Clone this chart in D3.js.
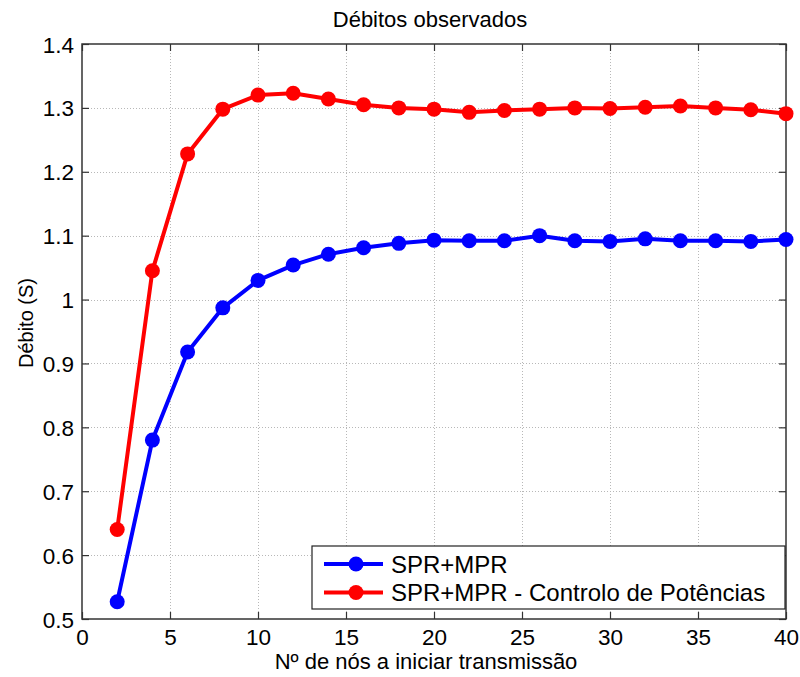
<!DOCTYPE html>
<html>
<head>
<meta charset="utf-8">
<script src="https://cdn.jsdelivr.net/npm/d3@7"></script>
<style>
  body { margin: 0; background: #fff; }
  svg { display: block; font-family: Arial, "Liberation Sans", sans-serif; }
</style>
</head>
<body>
<svg id="chart" width="800" height="677"></svg>
<script>
// Number of transmitting nodes
const nodes = [2, 4, 6, 8, 10, 12, 14, 16, 18, 20, 22, 24, 26, 28, 30, 32, 34, 36, 38, 40];
// Throughput, SPR+MPR
const sprMpr = [0.527, 0.780, 0.918, 0.987, 1.030, 1.054, 1.071, 1.081, 1.088, 1.093,
                1.092, 1.092, 1.100, 1.092, 1.091, 1.095, 1.092, 1.092, 1.091, 1.094];
// Throughput, SPR+MPR with power control
const sprMprPc = [0.640, 1.045, 1.228, 1.298, 1.320, 1.323, 1.314, 1.305, 1.300, 1.298,
                  1.293, 1.296, 1.298, 1.300, 1.299, 1.301, 1.303, 1.300, 1.297, 1.291];
const xTicks = [0, 5, 10, 15, 20, 25, 30, 35, 40];
const yTicks = [0.5, 0.6, 0.7, 0.8, 0.9, 1.0, 1.1, 1.2, 1.3, 1.4];
const seriesNames = ["SPR+MPR", "SPR+MPR - Controlo de Potências"];
const seriesColors = ["#0000ff", "#ff0000"];

const svg = d3.select("#chart");
const m = { left: 82, right: 786, top: 44, bottom: 619 };

const x = d3.scaleLinear().domain([0, 40]).range([m.left, m.right]);
const y = d3.scaleLinear().domain([0.5, 1.4]).range([m.bottom, m.top]);

// dotted grid
const grid = svg.append("g").attr("stroke", "#b8b8b8").attr("stroke-width", 1)
  .attr("stroke-dasharray", "1,2");
grid.selectAll("line.v").data(xTicks.slice(1, -1)).join("line")
  .attr("x1", d => x(d) + 0.5).attr("x2", d => x(d) + 0.5)
  .attr("y1", m.top).attr("y2", m.bottom);
grid.selectAll("line.h").data(yTicks.slice(1, -1)).join("line")
  .attr("y1", d => Math.round(y(d)) + 0.5).attr("y2", d => Math.round(y(d)) + 0.5)
  .attr("x1", m.left).attr("x2", m.right);

// axes with inward ticks on all four sides
const tickLen = 7;
const fmtY = d => d3.format("")(+d.toFixed(1));
const axB = svg.append("g").attr("transform", `translate(0,${m.bottom})`)
  .call(d3.axisBottom(x).tickValues(xTicks).tickSizeInner(-tickLen).tickSizeOuter(0).tickPadding(10));
const axT = svg.append("g").attr("transform", `translate(0,${m.top})`)
  .call(d3.axisTop(x).tickValues(xTicks).tickSizeInner(-tickLen).tickSizeOuter(0).tickFormat(""));
const axL = svg.append("g").attr("transform", `translate(${m.left},0)`)
  .call(d3.axisLeft(y).tickValues(yTicks).tickSizeInner(-tickLen).tickSizeOuter(0).tickPadding(8).tickFormat(fmtY));
const axR = svg.append("g").attr("transform", `translate(${m.right},0)`)
  .call(d3.axisRight(y).tickValues(yTicks).tickSizeInner(-tickLen).tickSizeOuter(0).tickFormat(""));
[axB, axT, axL, axR].forEach(a => {
  a.select(".domain").remove();
  a.selectAll("line").attr("stroke", "#333").attr("stroke-width", 1.2);
  a.selectAll("text").attr("font-family", "Arial, 'Liberation Sans', sans-serif")
    .attr("font-size", 22.5).attr("fill", "#000");
});
axL.selectAll("text").attr("dy", "0.36em");

// frame
svg.append("rect").attr("x", m.left).attr("y", m.top)
  .attr("width", m.right - m.left).attr("height", m.bottom - m.top)
  .attr("fill", "none").attr("stroke", "#333").attr("stroke-width", 1.5);

// series: line with filled circle markers
const series = [sprMpr, sprMprPc];
const line = d3.line().x((d, i) => x(nodes[i])).y(d => y(d));
series.forEach((vals, k) => {
  const g = svg.append("g");
  g.append("path").datum(vals).attr("d", line)
    .attr("fill", "none").attr("stroke", seriesColors[k]).attr("stroke-width", 4)
    .attr("stroke-linejoin", "round");
  g.selectAll("circle").data(vals).join("circle")
    .attr("cx", (d, i) => x(nodes[i])).attr("cy", d => y(d)).attr("r", 7.5)
    .attr("fill", seriesColors[k]);
});

// title and axis labels
svg.append("text").attr("x", 430).attr("y", 27).attr("text-anchor", "middle")
  .attr("font-size", 22).text("Débitos observados");
svg.append("text").attr("x", 426).attr("y", 669).attr("text-anchor", "middle")
  .attr("font-size", 22).text("Nº de nós a iniciar transmissão");
svg.append("text").attr("transform", "translate(33,323) rotate(-90)").attr("text-anchor", "middle")
  .attr("font-size", 20).text("Débito (S)");

// legend
const lg = svg.append("g");
lg.append("rect").attr("x", 312).attr("y", 546).attr("width", 473).attr("height", 63)
  .attr("fill", "#fff").attr("stroke", "#222").attr("stroke-width", 1.2);
seriesNames.forEach((name, k) => {
  const cy = 564 + k * 28.5;
  lg.append("line").attr("x1", 324).attr("x2", 383).attr("y1", cy).attr("y2", cy)
    .attr("stroke", seriesColors[k]).attr("stroke-width", 4);
  lg.append("circle").attr("cx", 356).attr("cy", cy).attr("r", 7.5).attr("fill", seriesColors[k]);
  lg.append("text").attr("x", 391).attr("y", cy).attr("dy", "0.36em")
    .attr("font-size", 24).text(name);
});
</script>
</body>
</html>
